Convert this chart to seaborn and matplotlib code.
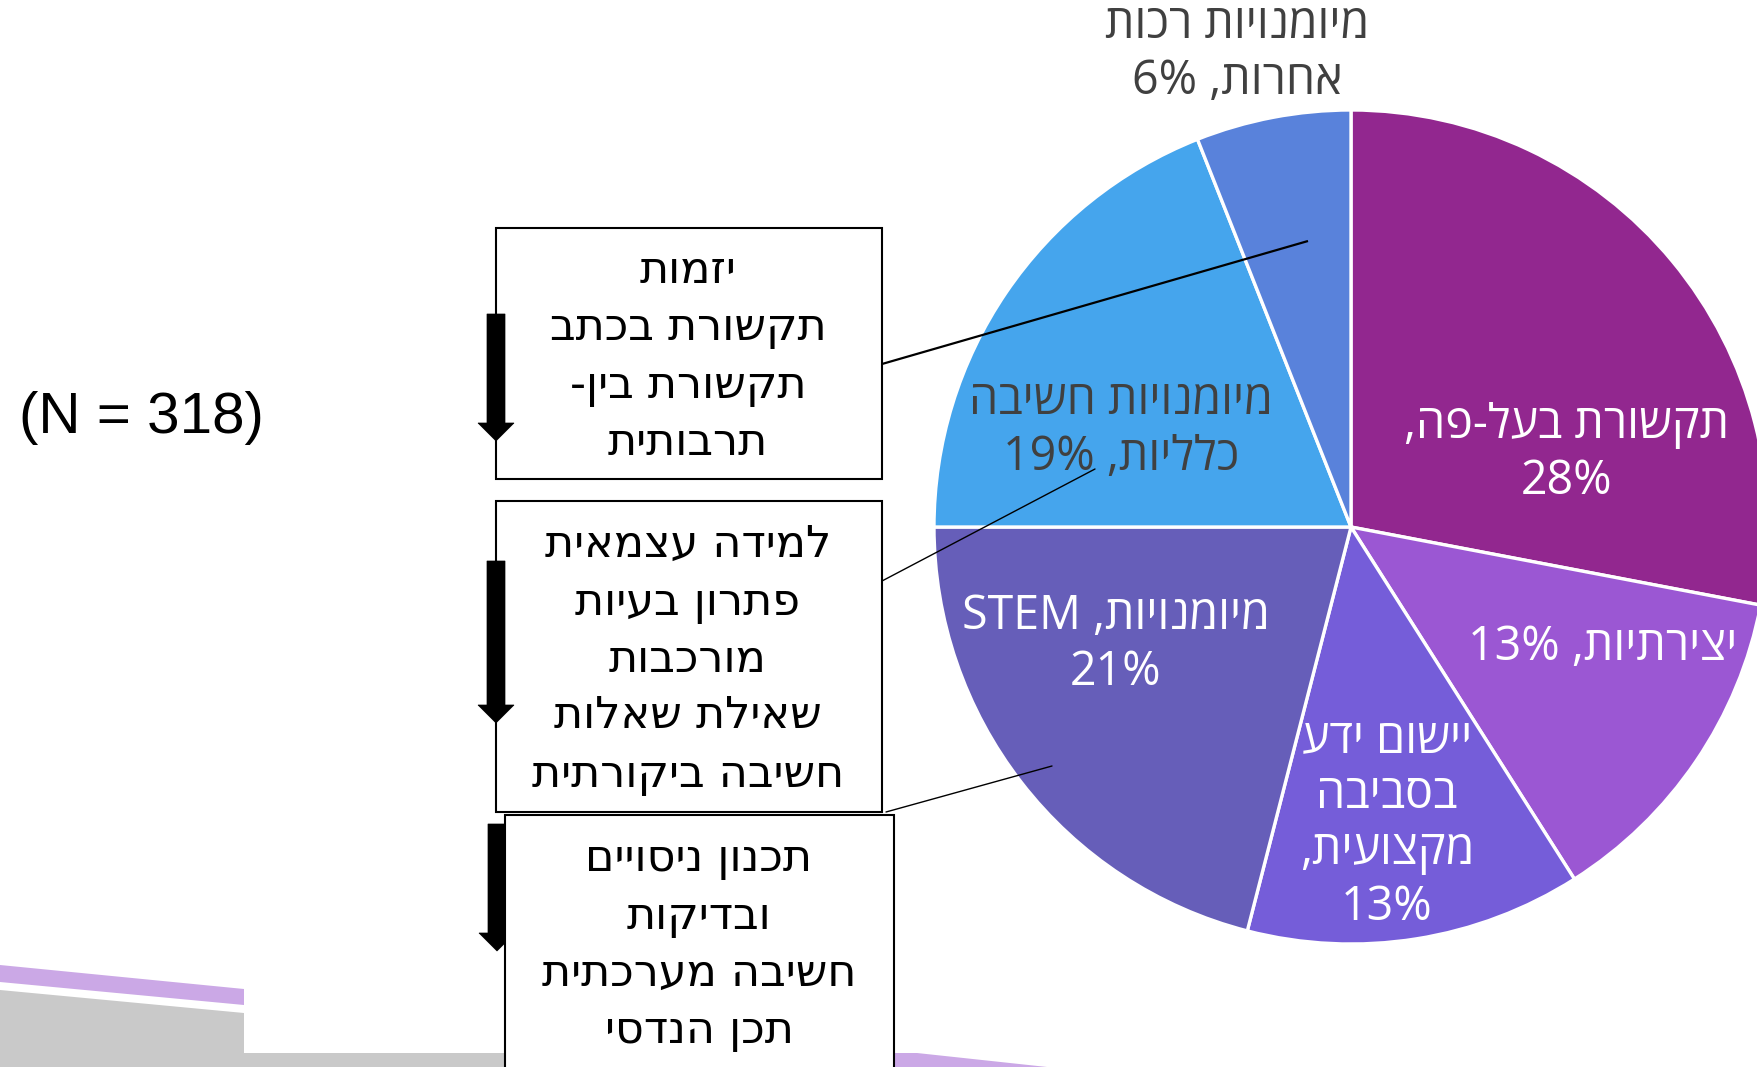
import re
import numpy as np
import pandas as pd
import seaborn as sns
import matplotlib.pyplot as plt
from matplotlib.patches import Polygon, Rectangle

# data
skills = ["תקשורת בעל-פה", "יצירתיות", "יישום ידע בסביבה מקצועית",
          "מיומנויות STEM", "מיומנויות חשיבה כלליות", "מיומנויות רכות אחרות"]
pct = [28, 13, 13, 21, 19, 6]
label_fmt = ["תקשורת בעל-פה,\n{}%", "יצירתיות, {}%", "יישום ידע\nבסביבה\nמקצועית,\n{}%",
             "מיומנויות, STEM\n{}%", "מיומנויות חשיבה\nכלליות, {}%", "מיומנויות רכות\nאחרות, {}%"]
slice_colors = ["#92278F", "#9B57D3", "#755DD9", "#665EB9", "#45A5ED", "#5982DB"]
label_colors = ["white", "white", "white", "white", "#404040", "#404040"]

box1 = ["יזמות", "תקשורת בכתב", "תקשורת בין-", "תרבותית"]
box2 = ["למידה עצמאית", "פתרון בעיות", "מורכבות", "שאילת שאלות", "חשיבה ביקורתית"]
box3 = ["תכנון ניסויים", "ובדיקות", "חשיבה מערכתית", "תכן הנדסי"]
n_text = "(N = 318)"

df = pd.DataFrame({"skill": skills, "pct": pct})


def visual(s):
    # simple RTL -> visual order (matplotlib has no bidi)
    out = []
    for line in s.split("\n"):
        r = line[::-1]
        r = re.sub(r"[A-Za-z0-9%]+", lambda m: m.group(0)[::-1], r)
        out.append(r)
    return "\n".join(out)


sns.set_theme(style="white")
plt.rcParams["font.family"] = ["DejaVu Sans"]

W, H = 1758, 1067
fig = plt.figure(figsize=(W / 100, H / 100), dpi=100)
ax = fig.add_axes([0, 0, 1, 1])


def Y(y):
    return H - y


# pie
cx, cy, R = 1351, Y(527), 417
pal = sns.color_palette(slice_colors)
ax.pie(df["pct"], colors=pal, startangle=90, counterclock=False, center=(cx, cy), radius=R,
       wedgeprops=dict(edgecolor="white", linewidth=2.4))
ax.set_xlim(0, W)
ax.set_ylim(0, H)
ax.set_aspect("equal")
ax.axis("off")

pie_font = ["Open Sans", "DejaVu Sans"]
label_pos = [(1567, 453), (1603, 647), (1387, 823), (1116, 644), (1121, 429), (1237, 53)]
for fmt, p, c, (lx, ly) in zip(label_fmt, df["pct"], label_colors, label_pos):
    ax.text(lx, Y(ly), visual(fmt.format(p)), ha="center", va="center", color=c,
            fontsize=33.5, family=pie_font, linespacing=1.23, zorder=5)

# decorations bottom-left
ax.add_patch(Polygon([(0, Y(965)), (244, Y(989)), (244, Y(1005)), (0, Y(982))],
                     closed=True, facecolor="#CBA8E6", edgecolor="none", zorder=1))
ax.add_patch(Polygon([(0, Y(990)), (244, Y(1013)), (244, Y(1067)), (0, Y(1067))],
                     closed=True, facecolor="#C9C9C9", edgecolor="none", zorder=1))
ax.add_patch(Rectangle((244, Y(1067)), 300, 14, facecolor="#C9C9C9", edgecolor="none", zorder=1))
ax.add_patch(Polygon([(893, Y(1053)), (917, Y(1053)), (1047, Y(1067)), (893, Y(1067))],
                     closed=True, facecolor="#CBA8E6", edgecolor="none", zorder=1))

# boxes
def box(x0, y0, x1, y1, z):
    ax.add_patch(Rectangle((x0, Y(y1)), x1 - x0, y1 - y0, facecolor="white",
                           edgecolor="black", linewidth=1.5, zorder=z))


def arrow(xc, ytop, ytip, z):
    sw, hw, hl = 9, 18, 18
    pts = [(xc - sw, ytop), (xc + sw, ytop), (xc + sw, ytip - hl), (xc + hw, ytip - hl),
           (xc, ytip), (xc - hw, ytip - hl), (xc - sw, ytip - hl)]
    ax.add_patch(Polygon([(px, Y(py)) for px, py in pts], closed=True,
                         facecolor="black", edgecolor="black", linewidth=0.5, zorder=z))


box(496, 228, 882, 479, 3)
box(496, 501, 882, 812, 3)
arrow(496, 314, 441, 4)
arrow(496, 561, 723, 4)
arrow(497, 824, 951, 4)
box(505, 815, 894, 1080, 6)

box_font = 32
for lines, xc, ys in [(box1, 688, [270, 327, 385, 442]),
                      (box2, 688, [544, 602, 659, 716, 774]),
                      (box3, 699, [859, 916, 973, 1030])]:
    for t, yy in zip(lines, ys):
        ax.text(xc, Y(yy), visual(t), ha="center", va="center", color="black",
                fontsize=box_font, family=["DejaVu Sans"], zorder=7)

# leader lines
ax.plot([882, 1308], [Y(364), Y(241)], color="black", linewidth=1.6, zorder=6, solid_capstyle="butt")
ax.plot([882, 1095], [Y(581), Y(469)], color="black", linewidth=1.0, zorder=6)
ax.plot([886, 1052], [Y(812), Y(766)], color="black", linewidth=1.0, zorder=6)

ax.text(141, Y(418), n_text, ha="center", va="center", fontsize=42,
        family=["Liberation Sans", "DejaVu Sans"], color="black")

fig.savefig("out.png", dpi=100)
